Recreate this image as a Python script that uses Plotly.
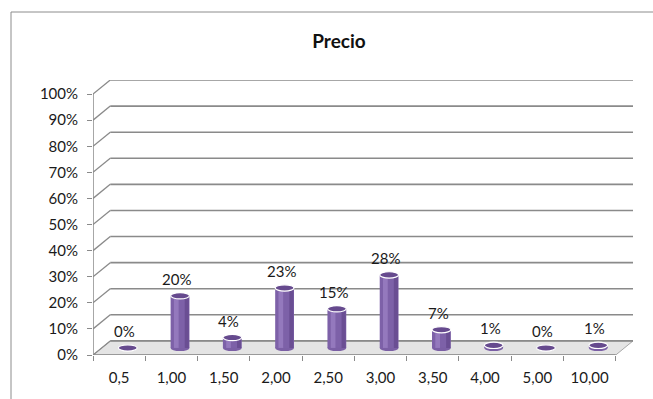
import plotly.graph_objects as go

# ---- data ----
categories = ["0,5", "1,00", "1,50", "2,00", "2,50", "3,00", "3,50", "4,00", "5,00", "10,00"]
values = [0, 20, 4, 23, 15, 28, 7, 1, 0, 1]
labels = ["0%", "20%", "4%", "23%", "15%", "28%", "7%", "1%", "0%", "1%"]
y_ticks = list(range(0, 101, 10))
y_ticktext = [f"{v}%" for v in y_ticks]

# ---- geometry (3D look) ----
W, H = 653, 399
L, R, T, B = 93, 20, 80, 44
n = len(categories)
DX = 0.33          # depth offset in category units
DY = 5.4           # depth offset in percent units
BASE = DY / 2      # bar base at middle of floor depth
BAR_W = 0.36
BAR_OFF = DX / 2
ELL_H = 1.2
GRID = "#8a8a8a"
FONT = "Lato"
TXT = "#1a1a1a"

fig = go.Figure()

shapes = []
# floor
shapes.append(dict(type="path",
                   path=f"M -0.5,0 L {n-0.5},0 L {n-0.5+DX},{DY} L {-0.5+DX},{DY} Z",
                   xref="x", yref="y", fillcolor="#e4e4e4",
                   line=dict(color="#a8a8a8", width=1), layer="below"))
# back-wall gridlines with diagonal on left wall
for v in y_ticks:
    shapes.append(dict(type="line", xref="x", yref="y", x0=-0.5, y0=v, x1=-0.5 + DX, y1=v + DY,
                       line=dict(color=GRID, width=1.3), layer="below"))
    shapes.append(dict(type="line", xref="x", yref="y", x0=-0.5 + DX, y0=v + DY, x1=n - 0.5 + DX, y1=v + DY,
                       line=dict(color=GRID, width=1.6), layer="below"))
# front axis lines
shapes.append(dict(type="line", xref="x", yref="y", x0=-0.5, y0=0, x1=-0.5, y1=100,
                   line=dict(color=GRID, width=1.5), layer="below"))
shapes.append(dict(type="line", xref="x", yref="y", x0=-0.5, y0=0, x1=n - 0.5, y1=0,
                   line=dict(color=GRID, width=1.5), layer="below"))
# bottom ellipses of cylinders
for i, v in enumerate(values):
    cx = i + BAR_OFF
    shapes.append(dict(type="circle", xref="x", yref="y",
                       x0=cx - BAR_W / 2, x1=cx + BAR_W / 2, y0=BASE - ELL_H, y1=BASE + ELL_H,
                       fillcolor="#7b5fa5", line=dict(width=0), layer="below"))
# top ellipses
for i, v in enumerate(values):
    cx = i + BAR_OFF
    shapes.append(dict(type="circle", xref="x", yref="y",
                       x0=cx - BAR_W / 2, x1=cx + BAR_W / 2,
                       y0=BASE + v - ELL_H, y1=BASE + v + ELL_H,
                       fillcolor="#664a8e", line=dict(color="white", width=1.2), layer="above"))
# outer chart border (left & top)
shapes.append(dict(type="line", xref="paper", yref="paper",
                   x0=(11 - L) / (W - L - R), x1=(11 - L) / (W - L - R),
                   y0=(H - B - 12) / (H - T - B), y1=-B / (H - T - B) - 0.02,
                   line=dict(color="#8c8c8c", width=1)))
shapes.append(dict(type="line", xref="paper", yref="paper",
                   x0=(11 - L) / (W - L - R), x1=(W - L + 5) / (W - L - R),
                   y0=(H - B - 12) / (H - T - B), y1=(H - B - 12) / (H - T - B),
                   line=dict(color="#8c8c8c", width=1)))

xs = [i + BAR_OFF for i in range(n)]
fig.add_trace(go.Bar(x=xs, y=values, base=[BASE] * n, width=BAR_W,
                     marker=dict(color="#7d61a8", line=dict(width=0)),
                     hoverinfo="skip", showlegend=False))
# highlight / shadow strips for cylinder shading
fig.add_trace(go.Bar(x=[x - BAR_W * 0.2 for x in xs], y=values, base=[BASE] * n, width=BAR_W * 0.25,
                     marker=dict(color="#9479bd", line=dict(width=0)),
                     hoverinfo="skip", showlegend=False))
fig.add_trace(go.Bar(x=[x + BAR_W * 0.36 for x in xs], y=values, base=[BASE] * n, width=BAR_W * 0.22,
                     marker=dict(color="#6a4e93", line=dict(width=0)),
                     hoverinfo="skip", showlegend=False))

annotations = []
for i, (v, t) in enumerate(zip(values, labels)):
    annotations.append(dict(x=i + 0.1, y=BASE + v, xref="x", yref="y", text=t, showarrow=False,
                            yanchor="middle", yshift=17,
                            font=dict(family=FONT, size=15, color=TXT)))

fig.update_layout(
    width=W, height=H,
    margin=dict(l=L, r=R, t=T, b=B),
    paper_bgcolor="white", plot_bgcolor="white",
    barmode="overlay",
    title=dict(text="<b>Precio</b>", x=339 / W, xanchor="center", y=1 - 41 / H, yanchor="middle",
               yref="container", font=dict(family=FONT, size=19, color="#111111")),
    xaxis=dict(range=[-0.5, n - 0.5 + DX], tickvals=list(range(n)), ticktext=categories,
               showgrid=False, zeroline=False, showline=False, ticks="", ticklabelstandoff=12,
               minor=dict(tick0=-0.5, dtick=1, ticks="outside", ticklen=5, tickcolor=GRID, showgrid=False),
               tickfont=dict(family=FONT, size=15, color=TXT), fixedrange=True),
    yaxis=dict(range=[0, 100 + DY], tickvals=y_ticks, ticktext=y_ticktext,
               showgrid=False, zeroline=False, showline=False, ticks="outside", ticklen=5,
               tickcolor=GRID, ticklabelstandoff=6,
               tickfont=dict(family=FONT, size=15, color=TXT), fixedrange=True),
    shapes=shapes, annotations=annotations,
)

fig.write_html("out.html")
